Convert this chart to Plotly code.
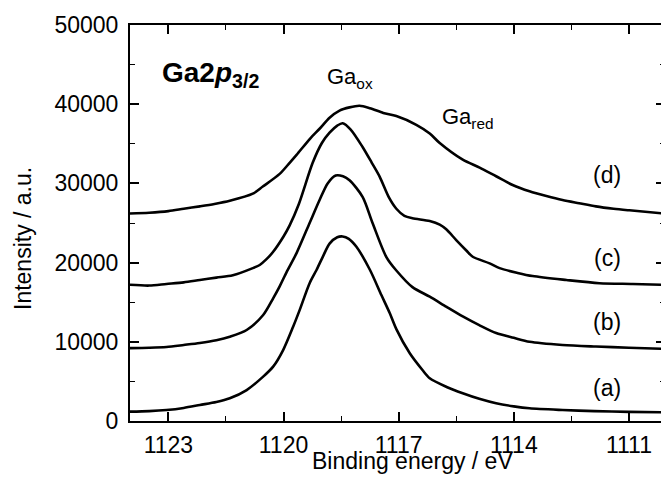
import plotly.graph_objects as go

# Binding energy (eV) and intensity (a.u.)
energy_a = [1124.0, 1123.5, 1123.05, 1122.6, 1122.18, 1121.75, 1121.40, 1120.96, 1120.53, 1120.27,
            1120.01, 1119.75, 1119.58, 1119.32, 1119.14, 1118.98, 1118.80, 1118.60, 1118.46, 1118.30,
            1118.10, 1117.75, 1117.45, 1117.23, 1117.06, 1116.71, 1116.38, 1116.19, 1115.75, 1115.33,
            1114.9, 1114.46, 1114.0, 1113.59, 1112.73, 1111.9, 1111.0, 1110.08]
inten_a = [1180, 1250, 1390, 1650, 2020, 2400, 2870, 3910, 5600, 6860,
           8960, 11900, 14000, 17400, 19070, 20700, 22400, 23200, 23300, 23000,
           22000, 19100, 15900, 13600, 11600, 8550, 6440, 5390, 4300, 3500,
           2800, 2240, 1850, 1600, 1390, 1250, 1150, 1100]

energy_b = [1124.0, 1123.5, 1123.05, 1122.6, 1122.18, 1121.75, 1121.40, 1120.96, 1120.53, 1120.27,
            1120.10, 1119.92, 1119.66, 1119.32, 1119.06, 1118.85, 1118.64, 1118.45, 1118.28, 1117.94,
            1117.68, 1117.32, 1117.06, 1116.64, 1116.19, 1115.75, 1115.33, 1114.9, 1114.46, 1114.0,
            1113.59, 1112.73, 1111.86, 1111.0, 1110.08]
inten_b = [9200, 9250, 9350, 9600, 9850, 10200, 10640, 11490, 13380, 15490,
           17000, 18800, 21200, 25000, 27900, 30000, 31000, 30900, 30400, 28300,
           25000, 20700, 19000, 16900, 15700, 14400, 13200, 12100, 11100, 10500,
           10000, 9600, 9400, 9250, 9100]

energy_c = [1124.0, 1123.5, 1123.05, 1122.6, 1122.18, 1121.75, 1121.32, 1120.80, 1120.62, 1120.45,
            1120.28, 1120.0, 1119.84, 1119.6, 1119.24, 1119.0, 1118.80, 1118.60, 1118.46, 1118.25,
            1117.94, 1117.70, 1117.49, 1117.25, 1117.06, 1116.85, 1116.64, 1116.19, 1115.93, 1115.76,
            1115.50, 1115.23, 1115.07, 1114.63, 1114.37, 1113.9, 1113.51, 1112.63, 1111.77, 1110.9,
            1110.08]
inten_c = [17200, 17100, 17300, 17500, 17800, 18100, 18400, 19300, 19700, 20400,
           21300, 23300, 24700, 27400, 32600, 35100, 36400, 37300, 37600, 36800,
           34600, 32600, 30800, 28200, 26800, 25900, 25600, 25250, 24800, 24200,
           22850, 21500, 20740, 19900, 19300, 18700, 18300, 17800, 17400, 17300,
           17200]

energy_d = [1124.0, 1123.5, 1123.0, 1122.6, 1122.18, 1121.8, 1121.4, 1120.8, 1120.54, 1120.10,
            1119.84, 1119.66, 1119.30, 1119.06, 1118.80, 1118.54, 1118.28, 1118.02, 1117.75, 1117.40,
            1117.06, 1116.54, 1116.19, 1115.93, 1115.33, 1114.89, 1114.46, 1114.03, 1113.59, 1113.15,
            1112.73, 1112.3, 1111.86, 1111.4, 1110.99, 1110.08]
inten_d = [26200, 26300, 26500, 26800, 27100, 27400, 27800, 28700, 29600, 31200,
           32600, 33600, 35700, 36900, 38300, 39200, 39600, 39800, 39500, 38900,
           38500, 37400, 36300, 35100, 33000, 32000, 30900, 29800, 29000, 28400,
           27900, 27500, 27100, 26800, 26600, 26200]

series = [(energy_a, inten_a, "(a)"), (energy_b, inten_b, "(b)"),
          (energy_c, inten_c, "(c)"), (energy_d, inten_d, "(d)")]

x_ticks = [1123, 1120, 1117, 1114, 1111]
y_ticks = [0, 10000, 20000, 30000, 40000, 50000]

FONT = "Liberation Sans, Arial, sans-serif"

fig = go.Figure()
for ex, iy, nm in series:
    fig.add_trace(go.Scatter(x=ex, y=iy, mode="lines", name=nm,
                             line=dict(color="black", width=2.6, shape="spline", smoothing=0.8),
                             showlegend=False))

axis_common = dict(showline=True, linecolor="black", linewidth=2, mirror="allticks",
                   ticks="inside", ticklen=9, tickwidth=1.6, tickcolor="black",
                   showgrid=False, zeroline=False, automargin=False,
                   tickfont=dict(family=FONT, size=23, color="black"))

fig.update_xaxes(range=[1124.0, 1110.06], tickvals=x_ticks,
                 ticktext=[str(v) for v in x_ticks], ticklabelstandoff=2,
                 minor=dict(ticks="inside", ticklen=5, tickwidth=1.4, tickcolor="black",
                            dtick=1.5, tick0=1111, showgrid=False),
                 **axis_common)
fig.update_yaxes(range=[0, 50000], tickvals=y_ticks,
                 ticktext=[str(v) for v in y_ticks], ticklabelstandoff=5,
                 minor=dict(ticks="inside", ticklen=5, tickwidth=1.4, tickcolor="black",
                            dtick=5000, tick0=0, showgrid=False),
                 **axis_common)

# the page body adds an 8 px offset, so the figure is laid out 8 px up/left
OFF = 8
PL, PR, PT, PB = 130, 665, 25, 421        # plot area in screen pixels
W, H = 669 - OFF, 496 - 2 * OFF
L, T = PL - OFF, PT - OFF
R = W - (PR - OFF)
B = H - (PB - OFF)
pw, ph = PR - PL, PB - PT

ann_font = dict(family=FONT, size=23, color="black")
annotations = [
    dict(x=1123.22, y=43700, text="<b>Ga2<i>p</i><sub>3/2</sub></b>", xanchor="left", yanchor="middle",
         font=dict(family=FONT, size=28, color="black")),
    dict(x=1118.93, y=43300, text="Ga<sub>ox</sub>", xanchor="left", yanchor="middle",
         font=dict(family=FONT, size=22, color="black")),
    dict(x=1115.93, y=38300, text="Ga<sub>red</sub>", xanchor="left", yanchor="middle",
         font=dict(family=FONT, size=22, color="black")),
    dict(x=1111.56, y=31060, text="(d)", xanchor="center", yanchor="middle", font=ann_font),
    dict(x=1111.56, y=20580, text="(c)", xanchor="center", yanchor="middle", font=ann_font),
    dict(x=1111.56, y=12440, text="(b)", xanchor="center", yanchor="middle", font=ann_font),
    dict(x=1111.56, y=4230, text="(a)", xanchor="center", yanchor="middle", font=ann_font),
    dict(xref="paper", yref="paper", x=(412 - PL) / pw, y=(PB - 461) / ph,
         text="Binding energy / eV", xanchor="center", yanchor="middle", font=ann_font),
    dict(xref="paper", yref="paper", x=(23 - PL) / pw, y=(PB - 239) / ph,
         text="Intensity / a.u.", textangle=-90, xanchor="center", yanchor="middle", font=ann_font),
]
for a in annotations:
    a["showarrow"] = False

fig.update_layout(width=W, height=H, margin=dict(l=L, r=R, t=T, b=B, autoexpand=False),
                  paper_bgcolor="white", plot_bgcolor="white",
                  annotations=annotations, font=dict(family=FONT, color="black"))

fig.write_html("out.html")
